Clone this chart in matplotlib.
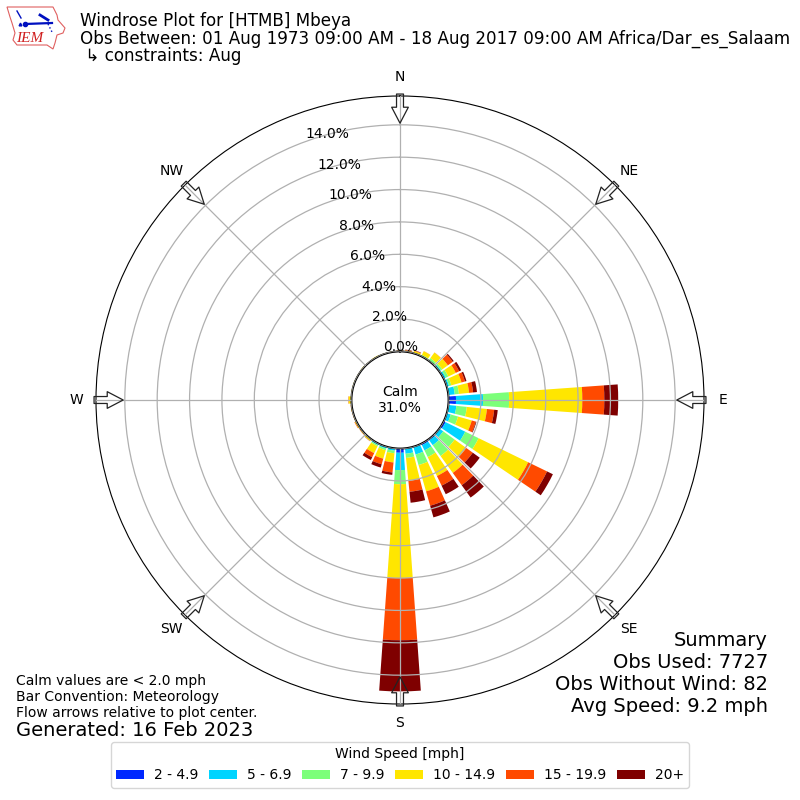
#!/usr/bin/env python3
"""Windrose plot for HTMB Mbeya, August observations."""

import numpy as np
import matplotlib
matplotlib.use("Agg")
import matplotlib.pyplot as plt
from matplotlib.patches import Polygon

# direction bins, degrees
directions = np.arange(0, 360, 10)

# percent of observations per direction bin, one list per speed class
speed_2_5 = [0, 0, 0, 0, 0, 0, 0, 0, .02, .46, .02, .02,
             .13, .03, .08, .10, .05, 0, .26, .02, 0, 0, 0, 0,
             0, 0, 0, 0, 0, 0, 0, 0, 0, 0, 0, 0]
speed_5_7 = [0, .01, .02, .03, .05, .12, .15, .15, .38, 1.67, .48, .24,
             1.35, .27, .37, .36, .45, .34, 1.07, .13, .12, .10, .02, .01,
             .01, 0, 0, .01, 0, 0, 0, 0, 0, 0, 0, 0]
speed_7_10 = [.01, .01, .03, .07, .15, .11, .17, .15, .26, 1.61, .65, .47,
              .92, .87, .82, .46, .68, .26, .87, .16, .11, .08, .03, .02,
              .02, .01, .02, .02, .01, .01, .01, .01, .01, .01, .01, .01]
speed_10_15 = [.04, .06, .10, .25, .42, .42, .51, .65, .63, 4.52, 1.25, .88,
               3.40, .88, 1.29, 1.30, 1.69, 1.42, 5.80, .57, .54, .47, .08, .05,
               .07, .04, .04, .15, .04, .04, .03, .05, .03, .06, .03, .03]
speed_15_20 = [.01, .02, .03, .01, .01, .37, .23, .22, .25, 1.36, .45, .26,
               1.30, .50, .94, .66, .92, .68, 3.84, .62, .36, .28, .01, .02,
               .03, .01, .01, .02, 0, 0, 0, 0, 0, 0, 0, 0]
speed_20_up = [.01, .03, .02, 0, 0, .08, .14, .10, .24, .86, .22, .04,
               .40, .53, .94, .59, .75, .68, 3.16, .15, .21, .19, .01, 0,
               0, 0, 0, 0, 0, 0, 0, 0, 0, 0, 0, 0]

speed_series = [speed_2_5, speed_5_7, speed_7_10, speed_10_15, speed_15_20, speed_20_up]
speed_labels = ["2 - 4.9", "5 - 6.9", "7 - 9.9", "10 - 14.9", "15 - 19.9", "20+"]
speed_colors = ["#0028ff", "#00d4ff", "#7cff7a", "#ffe600", "#ff4a00", "#7f0000"]

ring_values = [0, 2, 4, 6, 8, 10, 12, 14]
compass_angles = [0, 45, 90, 135, 180, 225, 270, 315]
compass_labels = ["N", "NE", "E", "SE", "S", "SW", "W", "NW"]


def draw_logo(fig):
    """Rough IEM logo in the top left corner, coordinates in pixels."""
    ax = fig.add_axes([0, 1 - 60 / 800, 70 / 800, 60 / 800])
    ax.set_xlim(0, 70)
    ax.set_ylim(60, 0)
    ax.axis("off")
    outline = np.array([(7, 7), (53, 7), (57, 15), (58, 20), (65, 28), (63, 33),
                        (57, 35), (55, 43), (53, 49), (47, 45), (17, 45),
                        (13, 40), (15, 33), (12, 23), (10, 17)])
    ax.add_patch(Polygon(outline, closed=True, fc="white", ec="#e06060", lw=0.8))
    ax.plot([25, 52], [24, 23], color="#0010c0", lw=1.6)
    ax.plot([25], [24], "o", color="#0010c0", ms=3)
    ax.plot([40, 48], [15, 20], color="#0010c0", lw=2)
    ax.plot([48, 52], [24, 32], color="#0010c0", lw=1, ls=":")
    ax.plot([17, 21], [11, 18], color="#0010c0", lw=1)
    ax.plot([20], [24], "^", color="#0010c0", ms=2)
    ax.text(30, 38, "IEM", color="#d02020", fontsize=11, style="italic",
            family="Liberation Serif", ha="center", va="center")


def main():
    fig = plt.figure(figsize=(8, 8), dpi=100)
    ax = fig.add_axes([96 / 800, 96 / 800, 608 / 800, 608 / 800], projection="polar")
    ax.set_theta_zero_location("N")
    ax.set_theta_direction(-1)

    # stacked bars, one stack per direction bin
    theta = np.deg2rad(directions)
    bottom = np.zeros(len(directions))
    for values, label, color in zip(speed_series, speed_labels, speed_colors):
        ax.bar(theta, values, width=np.deg2rad(8.2), bottom=bottom, color=color,
               label=label, linewidth=0)
        bottom += np.array(values)

    ax.set_ylim(0, 15.78)
    ax.set_rorigin(-3)
    ax.set_axisbelow(False)
    ax.set_rgrids(ring_values, labels=["%.1f%%" % v for v in ring_values])
    ax.set_rlabel_position(-20)
    ax.set_thetagrids(compass_angles, labels=compass_labels)
    ax.grid(True, color="#b0b0b0", lw=0.9)
    ax.spines["inner"].set_linewidth(1.4)

    # flow arrows on the compass points
    for angle in compass_angles:
        ax.annotate("", xy=(np.deg2rad(angle), 14.1), xytext=(np.deg2rad(angle), 15.9),
                    annotation_clip=False,
                    arrowprops=dict(width=5, headwidth=12, headlength=11.5, shrink=0,
                                    fc="none", ec="#222222", lw=0.9))

    ax.text(0.5, 0.5, "Calm\n31.0%", transform=ax.transAxes, ha="center", va="center",
            fontsize=10)

    # titles
    fig.text(80 / 800, 1 - 12 / 800, "Windrose Plot for [HTMB] Mbeya\n"
             "Obs Between: 01 Aug 1973 09:00 AM - 18 Aug 2017 09:00 AM Africa/Dar_es_Salaam\n"
             " \u21b3 constraints: Aug", fontsize=12.03, va="top", linespacing=0.97)

    fig.text(16 / 800, 1 - 720 / 800, "Calm values are < 2.0 mph\nBar Convention: Meteorology\n"
             "Flow arrows relative to plot center.", fontsize=10, va="bottom")
    fig.text(16 / 800, 1 - 740 / 800, "Generated: 16 Feb 2023", fontsize=14, va="bottom")
    fig.text(768 / 800, 1 - 716 / 800, "Summary\nObs Used: 7727\nObs Without Wind: 82\n"
             "Avg Speed: 9.2 mph", fontsize=14, ha="right", va="bottom", multialignment="right")

    fig.legend(*ax.get_legend_handles_labels(), loc="lower center",
               bbox_to_anchor=(0.5, 0.0065), ncol=6, title="Wind Speed [mph]", fontsize=10,
               columnspacing=0.8, handletextpad=0.7)

    draw_logo(fig)
    fig.savefig("out.png", dpi=100)


if __name__ == "__main__":
    main()
